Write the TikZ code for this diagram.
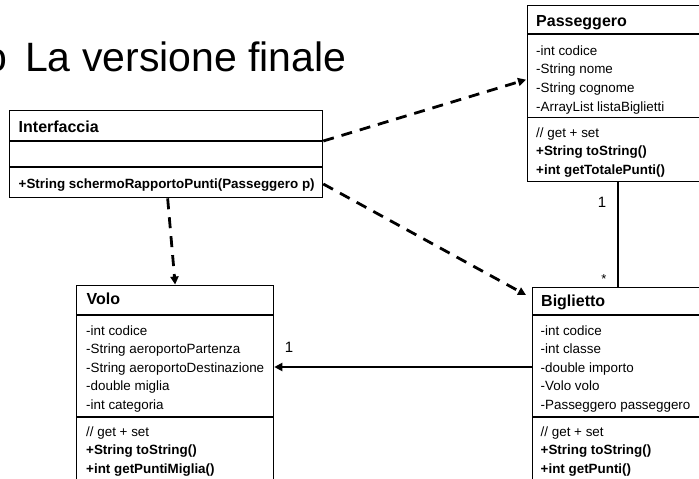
\documentclass[tikz,border=0pt]{standalone}
\usepackage{fontspec}
\setmainfont{Liberation Sans}
\usetikzlibrary{arrows.meta}
\tikzset{
  classbox/.style={draw, line width=1.3pt, inner sep=0pt, anchor=north west},
  sepline/.style={line width=1.3pt},
  attr/.style={anchor=base west, inner sep=0pt, font=\fontsize{13.4}{16}\selectfont},
  meth/.style={anchor=base west, inner sep=0pt, font=\fontsize{13.4}{16}\selectfont\bfseries},
  cname/.style={anchor=base west, inner sep=0pt, font=\fontsize{16}{19}\selectfont\bfseries},
  dep/.style={line width=2.8pt, dash pattern=on 11pt off 8pt, -{Triangle[length=8pt,width=8pt]}},
  assoc/.style={line width=2.8pt},
  navassoc/.style={line width=2.8pt, -{Triangle[length=8pt,width=8pt]}},
  mult/.style={anchor=base, inner sep=0pt, font=\fontsize{15}{18}\selectfont},
  bigtitle/.style={anchor=base west, inner sep=0pt, font=\fontsize{41}{48}\selectfont},
}
\begin{document}
\begin{tikzpicture}[x=1pt,y=-1pt]
\useasboundingbox (0,0) rectangle (699,479);

% slide title
\node[bigtitle] (bullet) at (-16,71) {o};
\node[bigtitle] (title) at (25,71) {La versione finale};

% ---- Passeggero
\node[classbox, minimum width=178pt, minimum height=176pt] (pas) at (527,5) {};
\draw[sepline] (pas.north west |- 0,34) -- (pas.north east |- 0,34);
\draw[sepline] (pas.north west |- 0,117.5) -- (pas.north east |- 0,117.5);
\node[cname] (pasT) at (536,27) {Passeggero};
\node[attr] (pa1) at (536,55) {-int codice};
\node[attr] (pa2) at (536,73.7) {-String nome};
\node[attr] (pa3) at (536,92.4) {-String cognome};
\node[attr] (pa4) at (536,111) {-ArrayList listaBiglietti};
\node[attr] (pm1) at (536,137) {// get + set};
\node[meth] (pm2) at (536,155.5) {+String toString()};
\node[meth] (pm3) at (536,174) {+int getTotalePunti()};

% ---- Interfaccia
\node[classbox, minimum width=313pt, minimum height=87pt] (int) at (9,110) {};
\draw[sepline] (int.north west |- 0,141) -- (int.north east |- 0,141);
\draw[sepline] (int.north west |- 0,167) -- (int.north east |- 0,167);
\node[cname] (intT) at (18.5,132) {Interfaccia};
\node[meth] (im1) at (18.5,188) {+String schermoRapportoPunti(Passeggero p)};

% ---- Volo
\node[classbox, minimum width=197pt, minimum height=210pt] (vol) at (76,284.5) {};
\draw[sepline] (vol.north west |- 0,315) -- (vol.north east |- 0,315);
\draw[sepline] (vol.north west |- 0,417) -- (vol.north east |- 0,417);
\node[cname] (volT) at (86.5,304) {Volo};
\node[attr] (va1) at (86,335) {-int codice};
\node[attr] (va2) at (86,353.6) {-String aeroportoPartenza};
\node[attr] (va3) at (86,372.2) {-String aeroportoDestinazione};
\node[attr] (va4) at (86,390.8) {-double miglia};
\node[attr] (va5) at (86,409.4) {-int categoria};
\node[attr] (vm1) at (86,436) {// get + set};
\node[meth] (vm2) at (86,454.6) {+String toString()};
\node[meth] (vm3) at (86,473.2) {+int getPuntiMiglia()};

% ---- Biglietto
\node[classbox, minimum width=173pt, minimum height=210pt] (big) at (532,287) {};
\draw[sepline] (big.north west |- 0,315) -- (big.north east |- 0,315);
\draw[sepline] (big.north west |- 0,417) -- (big.north east |- 0,417);
\node[cname] (bigT) at (541,306) {Biglietto};
\node[attr] (ba1) at (540.5,335) {-int codice};
\node[attr] (ba2) at (540.5,353.6) {-int classe};
\node[attr] (ba3) at (540.5,372.2) {-double importo};
\node[attr] (ba4) at (540.5,390.8) {-Volo volo};
\node[attr] (ba5) at (540.5,409.4) {-Passeggero passeggero};
\node[attr] (bm1) at (540.5,436) {// get + set};
\node[meth] (bm2) at (540.5,454.6) {+String toString()};
\node[meth] (bm3) at (540.5,473.2) {+int getPunti()};

% ---- connectors
\draw[dep] ([yshift=-31pt]int.north east) -- ([xshift=-1pt,yshift=14pt]pas.west);
\draw[dep] ([yshift=-74pt]int.north east) -- ([xshift=-6pt,yshift=-8pt]big.north west);
\draw[dep] ([xshift=1.5pt]int.south) -- (vol.north);

\coordinate (bv) at ([yshift=-80pt]big.north west);
\draw[navassoc] (bv) -- (bv -| vol.east);
\node[mult] (m1) at (289,352) {1};

\coordinate (pb) at ([xshift=91pt]pas.south west);
\draw[assoc] (pb) -- (pb |- big.north);
\node[mult] (m2) at (602,207) {1};
\node[mult, font=\fontsize{13}{15}\selectfont] (m3) at (604,283) {*};
\end{tikzpicture}
\end{document}
